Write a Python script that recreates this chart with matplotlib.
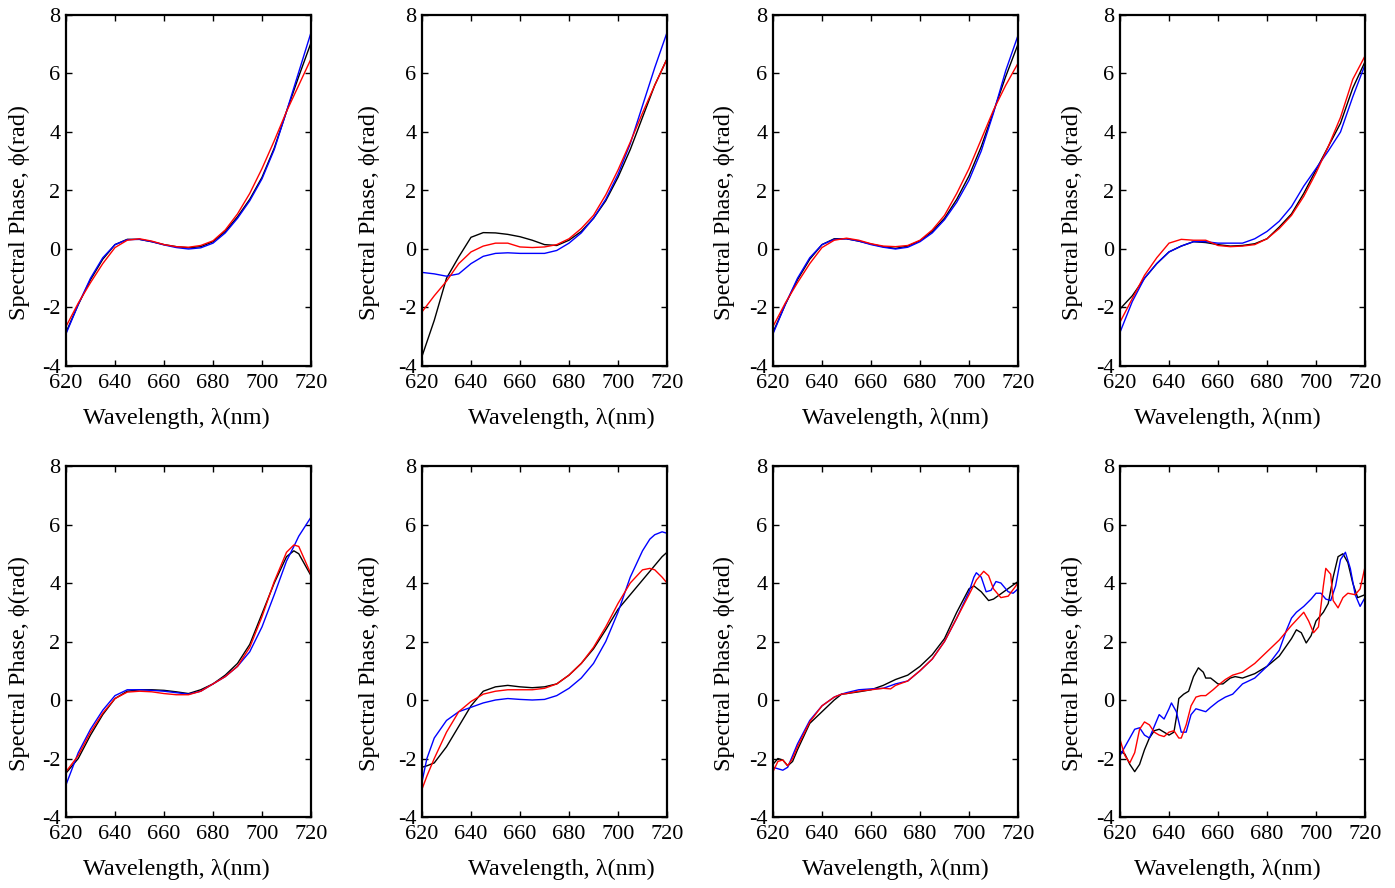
"""Spectral phase vs wavelength, eight panels (black / red / blue traces)."""

import matplotlib.pyplot as plt

plt.rcParams["font.family"] = ["Liberation Serif", "DejaVu Serif"]
plt.rcParams["axes.unicode_minus"] = False

# ---- panel 1 -------------------------------------------------------------
P1_WL = [620, 625, 630, 635, 640, 645, 650, 655, 660, 665, 670,
         675, 680, 685, 690, 695, 700, 705, 710, 715, 720]
P1_BLACK = [-2.85, -1.9, -1.05, -0.35, 0.15, 0.33, 0.33, 0.25, 0.15, 0.08, 0.04,
            0.08, 0.25, 0.6, 1.1, 1.7, 2.45, 3.45, 4.7, 5.9, 7.05]
P1_RED = [-2.65, -1.85, -1.15, -0.5, 0.05, 0.3, 0.35, 0.27, 0.15, 0.08, 0.06,
          0.12, 0.28, 0.65, 1.2, 1.9, 2.75, 3.7, 4.7, 5.6, 6.5]
P1_BLUE = [-2.9, -1.9, -1.0, -0.3, 0.15, 0.32, 0.33, 0.25, 0.14, 0.05, 0.0,
           0.04, 0.2, 0.55, 1.05, 1.65, 2.4, 3.4, 4.7, 6.05, 7.4]

# ---- panel 2 -------------------------------------------------------------
P2_WL = P1_WL
P2_BLACK = [-3.67, -2.44, -1.0, -0.27, 0.4, 0.56, 0.55, 0.5, 0.42, 0.3, 0.15,
            0.12, 0.3, 0.6, 1.05, 1.65, 2.45, 3.4, 4.5, 5.6, 6.5]
P2_RED = [-2.15, -1.6, -1.1, -0.5, -0.1, 0.1, 0.2, 0.2, 0.07, 0.05, 0.07,
          0.15, 0.35, 0.7, 1.15, 1.85, 2.7, 3.65, 4.65, 5.6, 6.5]
P2_BLUE = [-0.8, -0.85, -0.93, -0.85, -0.5, -0.25, -0.15, -0.13, -0.15, -0.15, -0.15,
           -0.05, 0.2, 0.55, 1.05, 1.7, 2.55, 3.6, 4.9, 6.2, 7.4]

# ---- panel 3 -------------------------------------------------------------
P3_WL = P1_WL
P3_BLACK = [-2.85, -1.9, -1.05, -0.35, 0.15, 0.35, 0.35, 0.27, 0.17, 0.08, 0.02,
            0.1, 0.28, 0.6, 1.05, 1.7, 2.5, 3.5, 4.7, 5.9, 7.0]
P3_RED = [-2.65, -1.85, -1.15, -0.5, 0.05, 0.3, 0.37, 0.3, 0.18, 0.1, 0.08,
          0.12, 0.3, 0.65, 1.15, 1.9, 2.75, 3.75, 4.75, 5.6, 6.35]
P3_BLUE = [-2.9, -1.9, -1.0, -0.3, 0.15, 0.33, 0.35, 0.27, 0.15, 0.06, 0.0,
           0.06, 0.25, 0.55, 1.0, 1.6, 2.35, 3.35, 4.65, 6.1, 7.3]

# ---- panel 4 -------------------------------------------------------------
P4_WL = P1_WL
P4_BLACK = [-2.05, -1.6, -1.0, -0.5, -0.1, 0.1, 0.25, 0.22, 0.15, 0.1, 0.12,
            0.18, 0.35, 0.75, 1.2, 1.9, 2.7, 3.5, 4.3, 5.5, 6.4]
P4_RED = [-2.5, -1.7, -0.9, -0.3, 0.2, 0.33, 0.3, 0.3, 0.12, 0.08, 0.1,
          0.15, 0.35, 0.7, 1.15, 1.8, 2.6, 3.5, 4.5, 5.8, 6.6]
P4_BLUE = [-2.85, -1.8, -1.0, -0.5, -0.1, 0.1, 0.25, 0.25, 0.2, 0.2, 0.2,
           0.35, 0.6, 0.95, 1.45, 2.15, 2.75, 3.35, 4.0, 5.2, 6.3]

# ---- panel 5 -------------------------------------------------------------
P5_WL = [620, 625, 630, 635, 640, 645, 650, 655, 660, 665, 670,
         675, 680, 685, 690, 695, 700, 705, 710, 713, 715, 720]
P5_BLACK = [-2.5, -2.0, -1.2, -0.5, 0.05, 0.3, 0.35, 0.35, 0.33, 0.28, 0.22,
            0.35, 0.55, 0.85, 1.25, 1.9, 2.95, 4.0, 4.9, 5.1, 5.0, 4.25]
P5_RED = [-2.45, -1.9, -1.1, -0.45, 0.05, 0.27, 0.3, 0.28, 0.22, 0.18, 0.18,
          0.3, 0.55, 0.8, 1.15, 1.8, 2.85, 4.05, 5.05, 5.3, 5.25, 4.3]
P5_BLUE = [-2.9, -1.8, -1.0, -0.35, 0.15, 0.35, 0.35, 0.33, 0.3, 0.25, 0.2,
           0.3, 0.55, 0.8, 1.15, 1.65, 2.5, 3.6, 4.75, 5.25, 5.6, 6.25]

# ---- panel 6 -------------------------------------------------------------
P6_WL = [620, 622, 625, 630, 635, 640, 645, 650, 655, 660, 665, 670,
         675, 680, 685, 690, 695, 700, 705, 710, 713, 715, 718, 720]
P6_BLACK = [-2.3, -2.25, -2.15, -1.6, -0.9, -0.2, 0.3, 0.45, 0.5, 0.45, 0.42, 0.45,
            0.55, 0.85, 1.25, 1.75, 2.4, 3.1, 3.6, 4.1, 4.4, 4.6, 4.9, 5.05]
P6_RED = [-3.05, -2.6, -2.0, -1.1, -0.4, -0.05, 0.2, 0.3, 0.35, 0.35, 0.35, 0.4,
          0.55, 0.85, 1.25, 1.8, 2.5, 3.3, 4.0, 4.45, 4.5, 4.45, 4.2, 4.0]
P6_BLUE = [-2.8, -2.0, -1.3, -0.7, -0.4, -0.25, -0.1, 0.0, 0.05, 0.02, 0.0, 0.02,
           0.15, 0.4, 0.75, 1.25, 2.0, 3.0, 4.2, 5.1, 5.5, 5.65, 5.75, 5.7]

# ---- panel 7 (each trace sampled on its own wavelengths) -----------------
P7_WL_BLACK = [620, 622, 624, 626, 628, 630, 635, 640, 645, 648, 650, 655, 660,
               665, 670, 675, 680, 685, 690, 695, 700, 702, 705, 708, 710, 715, 720]
P7_BLACK = [-2.2, -2.0, -2.05, -2.25, -2.1, -1.7, -0.8, -0.4, 0.0, 0.2, 0.22, 0.28, 0.35,
            0.5, 0.7, 0.85, 1.15, 1.55, 2.1, 3.0, 3.8, 3.9, 3.7, 3.4, 3.45, 3.75, 4.05]
P7_WL_RED = [620, 622, 624, 626, 628, 630, 635, 640, 645, 648, 650, 655, 660, 665,
             668, 670, 675, 680, 685, 690, 695, 700, 703, 706, 708, 710, 713, 716, 720]
P7_RED = [-2.45, -2.1, -2.05, -2.25, -2.0, -1.6, -0.75, -0.2, 0.1, 0.2, 0.22, 0.3, 0.35, 0.4,
          0.38, 0.5, 0.65, 1.0, 1.4, 2.0, 2.8, 3.6, 4.1, 4.4, 4.25, 3.8, 3.5, 3.55, 4.0]
P7_WL_BLUE = [620, 622, 624, 626, 628, 630, 635, 640, 645, 648, 650, 655, 660, 665,
              670, 675, 680, 685, 690, 695, 700, 702, 703, 705, 707, 709, 711, 713,
              716, 718, 720]
P7_BLUE = [-2.3, -2.35, -2.4, -2.3, -1.9, -1.5, -0.7, -0.2, 0.1, 0.2, 0.25, 0.35, 0.38, 0.4,
           0.55, 0.65, 1.0, 1.4, 2.0, 2.8, 3.7, 4.2, 4.35, 4.2, 3.7, 3.75, 4.05, 4.0,
           3.7, 3.65, 3.8]

# ---- panel 8 -------------------------------------------------------------
P8_WL_BLACK = [620, 622, 624, 626, 628, 630, 632, 634, 636, 638, 640, 642, 643, 644,
               646, 648, 650, 652, 654, 655, 657, 660, 662, 665, 667, 670, 675, 680,
               685, 690, 692, 694, 696, 698, 700, 703, 705, 707, 709, 711, 713, 715,
               717, 720]
P8_BLACK = [-1.75, -1.85, -2.2, -2.45, -2.2, -1.7, -1.3, -1.05, -1.0, -1.1, -1.2, -1.1, -0.6, 0.05,
            0.2, 0.3, 0.8, 1.1, 0.95, 0.75, 0.75, 0.55, 0.55, 0.75, 0.8, 0.75, 0.9, 1.15,
            1.5, 2.1, 2.4, 2.3, 1.95, 2.2, 2.7, 3.0, 3.3, 4.2, 4.9, 5.0, 4.7, 4.0,
            3.5, 3.6]
P8_WL_RED = [620, 622, 624, 626, 628, 630, 632, 634, 636, 638, 640, 642, 644, 645,
             647, 649, 651, 653, 655, 658, 660, 663, 666, 670, 675, 680, 685, 690,
             695, 697, 699, 701, 703, 704, 706, 707, 709, 711, 713, 716, 718, 720]
P8_RED = [-1.35, -1.9, -2.15, -1.8, -1.0, -0.75, -0.85, -1.1, -1.2, -1.25, -1.1, -1.05, -1.3, -1.3,
          -0.85, -0.2, 0.1, 0.15, 0.15, 0.35, 0.5, 0.7, 0.85, 0.95, 1.25, 1.65, 2.05, 2.55,
          3.0, 2.7, 2.3, 2.5, 3.9, 4.5, 4.3, 3.4, 3.15, 3.5, 3.65, 3.6, 3.8, 4.55]
P8_WL_BLUE = [620, 622, 624, 626, 628, 630, 632, 634, 636, 638, 640, 641, 643, 645,
              647, 649, 651, 653, 655, 657, 660, 663, 666, 670, 675, 680, 685, 688,
              690, 692, 695, 698, 700, 702, 704, 706, 708, 710, 712, 714, 716, 718, 720]
P8_BLUE = [-1.9, -1.6, -1.3, -1.0, -0.95, -1.2, -1.3, -0.9, -0.5, -0.65, -0.3, -0.1, -0.4, -1.1,
           -1.1, -0.5, -0.3, -0.35, -0.4, -0.25, -0.05, 0.1, 0.2, 0.55, 0.75, 1.15, 1.7, 2.4,
           2.8, 3.0, 3.2, 3.45, 3.65, 3.65, 3.45, 3.4, 3.9, 4.8, 5.05, 4.5, 3.6, 3.2, 3.5]

PANELS = [
    [(P1_WL, P1_BLACK), (P1_WL, P1_BLUE), (P1_WL, P1_RED)],
    [(P2_WL, P2_BLACK), (P2_WL, P2_BLUE), (P2_WL, P2_RED)],
    [(P3_WL, P3_BLACK), (P3_WL, P3_BLUE), (P3_WL, P3_RED)],
    [(P4_WL, P4_BLACK), (P4_WL, P4_BLUE), (P4_WL, P4_RED)],
    [(P5_WL, P5_BLACK), (P5_WL, P5_BLUE), (P5_WL, P5_RED)],
    [(P6_WL, P6_BLACK), (P6_WL, P6_BLUE), (P6_WL, P6_RED)],
    [(P7_WL_BLACK, P7_BLACK), (P7_WL_BLUE, P7_BLUE), (P7_WL_RED, P7_RED)],
    [(P8_WL_BLACK, P8_BLACK), (P8_WL_BLUE, P8_BLUE), (P8_WL_RED, P8_RED)],
]
COLORS = ["black", "blue", "red"]

X_TICKS = [620, 640, 660, 680, 700, 720]
Y_TICKS = [-4, -2, 0, 2, 4, 6, 8]

W_PX, H_PX = 1395, 888
COL_LEFT_PX = [66, 422, 773, 1120]
ROW_TOP_PX = [15, 466]
AX_W_PX, AX_H_PX = 245, 351
# label centres relative to each column's axes (pixels), as in the original layout
XLABEL_DX_PX = [-12, 17, 0, -15]
YLABEL_DX_PX = [-47, -53, -49, -48]


def main() -> None:
    fig = plt.figure(figsize=(W_PX / 100, H_PX / 100), dpi=100)
    for i, traces in enumerate(PANELS):
        row, col = divmod(i, 4)
        left = COL_LEFT_PX[col] / W_PX
        bottom = (H_PX - ROW_TOP_PX[row] - AX_H_PX) / H_PX
        ax = fig.add_axes([left, bottom, AX_W_PX / W_PX, AX_H_PX / H_PX])
        for (wl, phase), color in zip(traces, COLORS):
            ax.plot(wl, phase, color=color, lw=1.0)
        ax.set_xlim(620, 720)
        ax.set_ylim(-4, 8)
        ax.set_xticks(X_TICKS)
        ax.set_yticks(Y_TICKS)
        ax.tick_params(direction="in", length=4, width=1.0, top=True, right=True,
                       labelsize=16)
        ax.tick_params(axis="x", pad=6)
        ax.tick_params(axis="y", pad=4)
        for spine in ax.spines.values():
            spine.set_linewidth(1.6)

        ax.set_xlabel("Wavelength, λ(nm)", fontsize=17.5, va="center")
        ax.xaxis.set_label_coords(0.5 + XLABEL_DX_PX[col] / AX_W_PX, -52 / AX_H_PX)
        ax.set_ylabel("Spectral Phase, ϕ(rad)", fontsize=17.5, va="center")
        ax.yaxis.set_label_coords(YLABEL_DX_PX[col] / AX_W_PX, 0.5 - 22 / AX_H_PX)

    fig.savefig("out.png", dpi=100)
    plt.close(fig)


if __name__ == "__main__":
    main()
